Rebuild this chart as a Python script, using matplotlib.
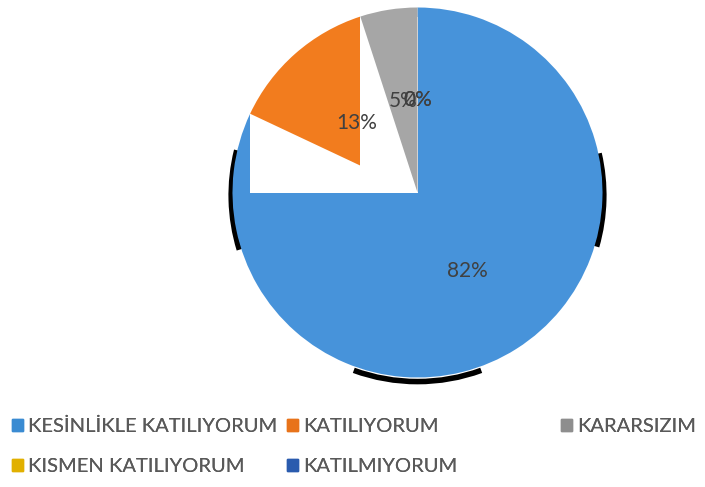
import numpy as np
import matplotlib
matplotlib.use("Agg")
import matplotlib.pyplot as plt
from matplotlib.patches import Patch, Rectangle, Wedge

categories = ["KESİNLİKLE KATILIYORUM", "KATILIYORUM", "KARARSIZIM",
              "KISMEN KATILIYORUM", "KATILMIYORUM"]
values = [82, 13, 5, 0, 0]
colors = ["#4793DA", "#F27C1E", "#A6A6A6", "#F5BE0A", "#2D5EAA"]
legend_colors = ["#3A8BD2", "#E8731A", "#8E8E8E", "#E1B000", "#2A5BAE"]

FONT = ["Lato", "DejaVu Sans"]
W, H = 705, 487
fig = plt.figure(figsize=(W / 100, H / 100), dpi=100)

R_PX = 185.0
cx, cy = 417.5, 192.5
lim = 1.1
size = 2 * lim * R_PX
ax = fig.add_axes([(cx - size / 2) / W, (H - cy - size / 2) / H, size / W, size / H])

wedges, texts, autotexts = ax.pie(
    values, colors=colors, startangle=90, counterclock=False,
    autopct="%.0f%%", pctdistance=0.5,
    wedgeprops=dict(linewidth=0),
    textprops=dict(color="#404040", fontsize=15, family=FONT))
ax.set_xlim(-lim, lim)
ax.set_ylim(-lim, lim)
ax.set_aspect("equal")
ax.axis("off")

for w in wedges:
    w.set_zorder(2)
for t in autotexts:
    t.set_zorder(6)

# rendering artifact: orange slice's bounding box blanked, slice clipped
orange = wedges[1]
ext = orange.get_path().get_extents()
white = Rectangle((ext.x0, ext.y0), ext.width, ext.height,
                  facecolor="white", edgecolor="none", zorder=3)
ax.add_patch(white)
orange.set_zorder(4)
xcut = np.cos(np.radians(min(orange.theta1, orange.theta2)))
clip = Rectangle((ext.x0 - 0.1, ext.y0 - 0.1), xcut - ext.x0 + 0.1, ext.height + 0.2,
                 transform=ax.transData, facecolor="none", edgecolor="none")
orange.set_clip_on(True)
orange.set_clip_path(clip)
wedges[2].set_zorder(5)

# dark shadow rims
for t1, t2 in [(166, 197), (-16, 13), (250, 290)]:
    ax.add_patch(Wedge((0, -0.015), 1.022, t1, t2, width=0.03,
                       facecolor="black", edgecolor="none", zorder=1))

# legend (row-wise like Excel, 3 columns)
handles = [Patch(facecolor=c, edgecolor=c) for c in legend_colors]
cols = [[0, 3], [1, 4], [2]]
col_x = [12, 287, 561]
top_y = 418
for xs, idx in zip(col_x, cols):
    leg = fig.legend([handles[i] for i in idx], [categories[i] for i in idx],
                     loc="upper left", bbox_to_anchor=(xs / W, 1 - top_y / H),
                     frameon=False, ncol=1, borderpad=0, borderaxespad=0,
                     handlelength=0.55, handleheight=0.55, handletextpad=0.25,
                     labelspacing=1.15,
                     prop=dict(family=FONT, size=14.5))
    for t in leg.get_texts():
        t.set_color("#595959")
    fig.add_artist(leg)

fig.savefig("out.png", dpi=100, facecolor="white")
